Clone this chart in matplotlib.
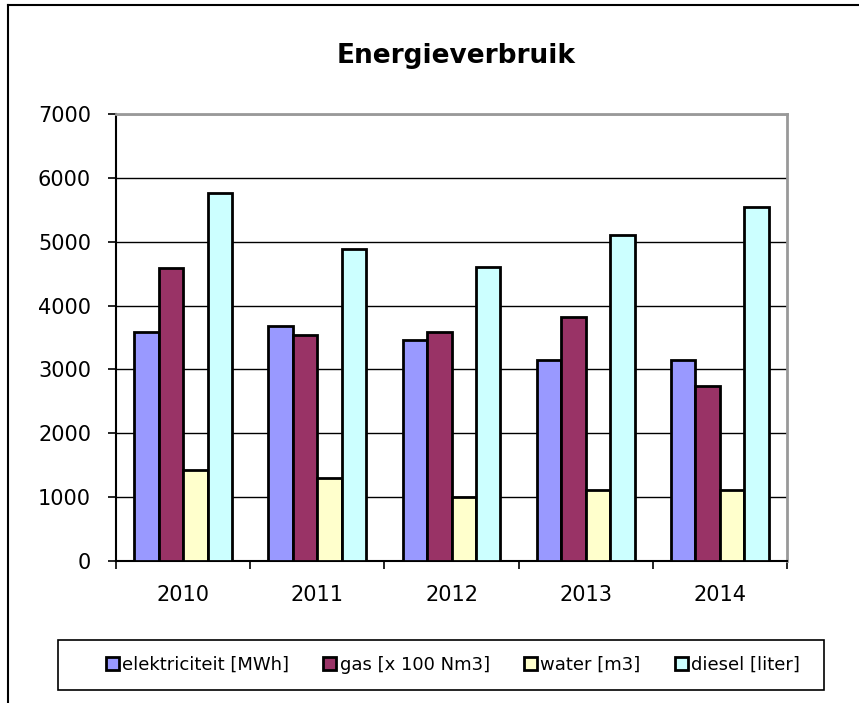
import matplotlib.pyplot as plt
import numpy as np
from matplotlib.patches import Rectangle
from matplotlib.lines import Line2D

years = ["2010", "2011", "2012", "2013", "2014"]
series_names = ["elektriciteit [MWh]", "gas [x 100 Nm3]", "water [m3]", "diesel [liter]"]
elektriciteit = [3590, 3680, 3460, 3140, 3140]
gas = [4590, 3540, 3590, 3820, 2740]
water = [1430, 1300, 1010, 1110, 1110]
diesel = [5770, 4890, 4600, 5110, 5550]
colors = ["#9999FF", "#993366", "#FFFFCC", "#CCFFFF"]

fig = plt.figure(figsize=(8.59, 7.03), dpi=100)
ax = fig.add_axes([116 / 859, 1 - 561 / 703, (787 - 116) / 859, (561 - 114) / 703])

x = np.arange(len(years))
width = 0.1825
data = [elektriciteit, gas, water, diesel]
for i, (vals, name, c) in enumerate(zip(data, series_names, colors)):
    ax.bar(x + (i - 1.5) * width, vals, width, color=c, edgecolor="black",
           linewidth=2, label=name, zorder=3)

ax.set_xlim(-0.5, len(years) - 0.5)
ax.set_ylim(0, 7000)
ax.set_yticks(range(0, 7001, 1000))
ax.yaxis.grid(True, color="black", linewidth=1, zorder=0)

# ticks between the groups, labels at the centres
ax.set_xticks(np.arange(-0.5, len(years), 1.0))
ax.set_xticklabels([])
ax.set_xticks(x, minor=True)
ax.set_xticklabels(years, minor=True)
ax.tick_params(axis="x", which="minor", length=0, pad=17, labelsize=15)
ax.tick_params(axis="x", which="major", length=6, width=1.2, direction="out")
ax.tick_params(axis="y", length=6, width=1.2, direction="out", labelsize=15, pad=12)

for s in ["top", "right"]:
    ax.spines[s].set_color("#999999")
    ax.spines[s].set_linewidth(2)
ax.spines["left"].set_linewidth(1.5)
ax.spines["bottom"].set_linewidth(1.5)

fig.text(456 / 859, 1 - 56 / 703, "Energieverbruik", ha="center", va="center",
         fontsize=19, fontweight="bold")

# outer frame (top and left visible)
fig.add_artist(Line2D([8 / 859, 1], [1 - 5 / 703] * 2, color="black", linewidth=1.5,
                      transform=fig.transFigure))
fig.add_artist(Line2D([8 / 859] * 2, [0, 1 - 5 / 703], color="black", linewidth=1.5,
                      transform=fig.transFigure))

# legend box
fig.add_artist(Rectangle((58 / 859, 1 - 690 / 703), (824 - 58) / 859, 50 / 703,
                         transform=fig.transFigure, fill=False, edgecolor="black",
                         linewidth=1.2))
fig.legend(loc="center", bbox_to_anchor=(453 / 859, 1 - 665 / 703), ncol=4,
           frameon=False, fontsize=13, handlelength=0.7, handleheight=0.7,
           handletextpad=0.2, columnspacing=1.9)

fig.savefig("out.png", dpi=100)
